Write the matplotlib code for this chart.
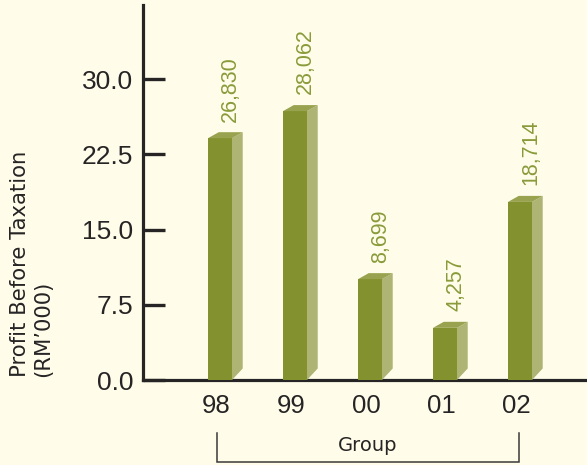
import numpy as np
import matplotlib
matplotlib.use("Agg")
import matplotlib.pyplot as plt
from matplotlib.patches import Polygon

# dados (altura das barras como desenhadas + rótulos impressos)
anos    = ["98", "99", "00", "01", "02"]
alturas = [24.1, 26.8, 10.05, 5.2, 17.75]
rotulos = ["26,830", "28,062", "8,699", "4,257", "18,714"]
yticks  = [0.0, 7.5, 15.0, 22.5, 30.0]

fundo   = "#FFFDEA"
frente  = "#83922E"
lateral = "#AEB574"
topo    = "#98A24F"
verde_txt = "#8A9B3A"
escuro  = "#262424"

fig = plt.figure(figsize=(5.87, 4.65), dpi=100, facecolor=fundo)
ax = fig.add_axes([143/587, 1 - 380/465, 444/587, 375/465])
ax.set_facecolor(fundo)

x = np.arange(len(anos))
larg = 0.32     # face frontal
dx = 0.143      # profundidade (eixo x)
dy_top = 0.6    # profundidade (eixo y) no topo
dy_base = 1.15  # inclinação da base da lateral

ax.bar(x, alturas, width=larg, color=frente, edgecolor="none", zorder=3)

for xi, h, txt in zip(x, alturas, rotulos):
    x0, x1 = xi - larg/2, xi + larg/2
    # lateral
    ax.add_patch(Polygon([(x1, 0), (x1 + dx, dy_base), (x1 + dx, h + dy_top), (x1, h)],
                         closed=True, facecolor=lateral, edgecolor="none", zorder=3))
    # topo
    ax.add_patch(Polygon([(x0, h), (x1, h), (x1 + dx, h + dy_top), (x0 + dx, h + dy_top)],
                         closed=True, facecolor=topo, edgecolor="none", zorder=3))
    ax.annotate(txt, xy=(xi, h), xytext=(7.6, 12), textcoords="offset points",
                rotation=90, ha="center", va="bottom", color=verde_txt,
                fontsize=15.5, family="Liberation Sans")

ax.set_xlim(-(220 - 143)/75, (587 - 220)/75)
ax.set_ylim(0, 375/10.033)

ax.spines["top"].set_visible(False)
ax.spines["right"].set_visible(False)
for s in ("left", "bottom"):
    ax.spines[s].set_color(escuro)
    ax.spines[s].set_linewidth(2.3)

ax.set_yticks(yticks)
ax.set_yticklabels([f"{v:.1f}" for v in yticks], family="Liberation Sans",
                   fontsize=19, color=escuro)
ax.tick_params(axis="y", direction="in", length=15.8, width=2.4, color=escuro, pad=7)

ax.set_xticks(x - 0.053)
ax.set_xticklabels(anos, family="Liberation Sans", fontsize=18.5, color=escuro)
ax.tick_params(axis="x", length=0, pad=10)

# colchete "Group"
xa, xb = x[0] - 0.045, x[-1] - 0.015
ax.plot([xa, xa, xb, xb], [-5.28, -8.17, -8.17, -5.28], color="#3a3838",
        linewidth=1.1, clip_on=False, solid_joinstyle="miter")
ax.text((xa + xb)/2, -6.55, "Group", ha="center", va="center",
        fontsize=14, color=escuro, clip_on=False)

fig.text(31.5/587, 1 - 377/465, "Profit Before Taxation\n(RM\u2019000)",
         rotation=90, ha="center", va="bottom", multialignment="left",
         fontsize=15.2, color=escuro, linespacing=1.2)

fig.savefig("out.png", dpi=100, facecolor=fundo)
